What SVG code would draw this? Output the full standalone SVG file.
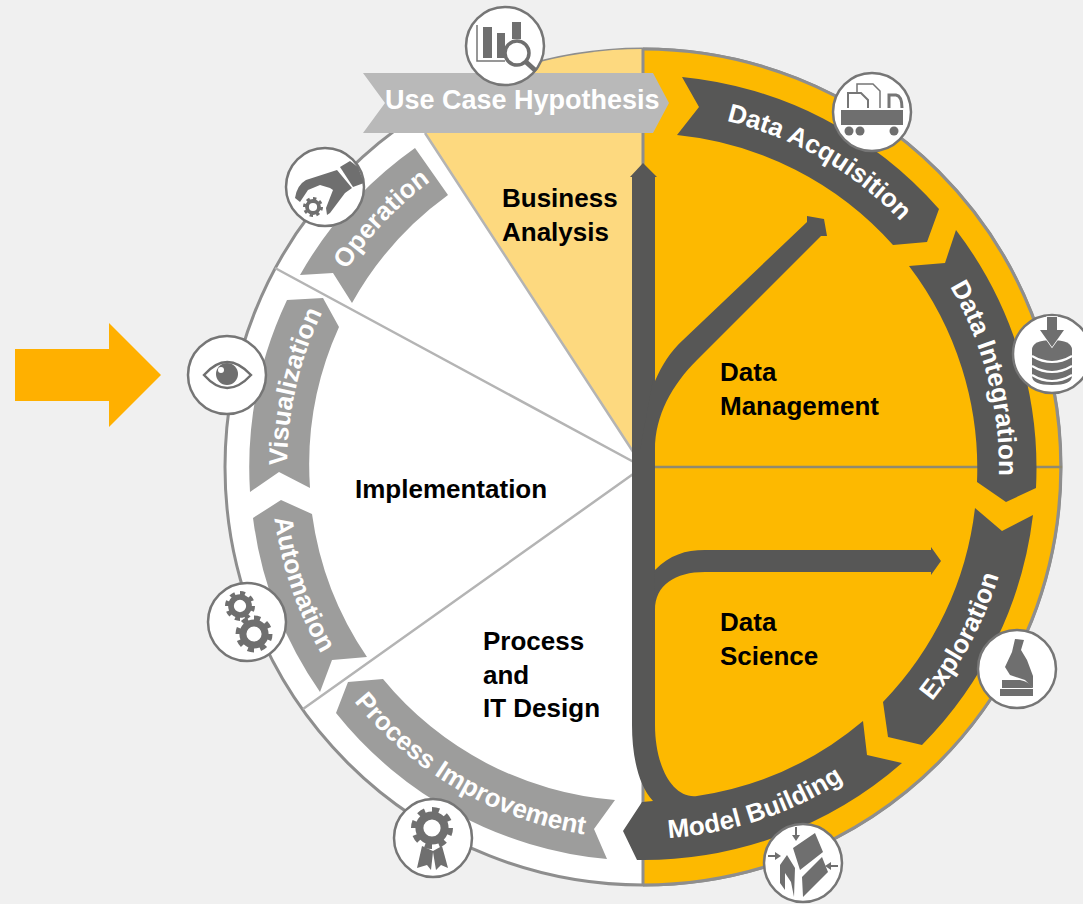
<svg xmlns="http://www.w3.org/2000/svg" width="1083" height="904" viewBox="0 0 1083 904">
<style>
.lbl{font-family:"Liberation Sans",Arial,sans-serif;font-weight:700;font-size:26px;fill:#000}
.band{font-family:"Liberation Sans",Arial,sans-serif;font-weight:700;font-size:26px;fill:#fff;text-anchor:middle}
.dark{fill:#575756}
.mid{fill:#9d9d9c}
.ic{fill:#fff;stroke:#767676;stroke-width:2.5}
.g{fill:#6f6f6f}
.spoke{stroke:#b4b4b4;stroke-width:2.5;fill:none}
.arc{fill:none}
</style>
<defs>
<g id="gear">
<circle r="6" fill="none" stroke="#6f6f6f" stroke-width="3.8"/>
<circle r="8.6" fill="none" stroke="#6f6f6f" stroke-width="2.8" pathLength="16" stroke-dasharray="1 1"/>
</g>
<path id="pDA" d="M643,111 A356,356 0 0 1 951.3,289"/>
<path id="pDI" d="M896.9,217.5 A356,356 0 0 1 986,562.1"/>
<path id="pEX" d="M840.1,782.5 A372,372 0 0 0 1014.8,454"/>
<path id="pMB" d="M567.6,831.3 A372,372 0 0 0 920.7,714.5"/>
<path id="pPI" d="M320.8,653 A372,372 0 0 0 643,839"/>
<path id="pAU" d="M277.8,396 A372,372 0 0 0 399,747.8"/>
<path id="pVI" d="M302.6,571.1 A356,356 0 0 1 382.6,224.2"/>
<path id="pOP" d="M296.8,383.9 A356,356 0 0 1 541.9,125.7"/>
</defs>
<rect width="1083" height="904" fill="#f0f0f0"/>

<g id="wheel">
<circle cx="643" cy="467" r="418" fill="#fff" stroke="#8e8e8e" stroke-width="3"/>
<path d="M643,49 A418,418 0 0 1 643,885 Z" fill="#fdb900"/>
<path d="M643,467 L415,117 A418,418 0 0 1 643,49 Z" fill="#fdd97f"/>
<path d="M643,49 A418,418 0 0 1 643,885" fill="none" stroke="#8e8e8e" stroke-width="3"/>
<path class="spoke" d="M643,467 L275,268 M643,467 L303,709 M643,467 L425,133"/>
<path d="M643,49 V885" stroke="#8e8e8e" stroke-width="3" fill="none"/>
<path d="M643,467 H1062" stroke="#8f8a70" stroke-width="2.5" fill="none"/>
</g>

<g id="connectors">
<path class="dark" d="M902,763 L867,755 L863,721 A334,334 0 0 1 697,796 C672,799 655,765 655,725 L655,177 L657,177 L643,163 L630,177 L632,177 L632,725 C632,755 638,785 653,801 L642,802 L623,831 L637,860 A393,393 0 0 0 902,763 Z"/>
<path class="dark" d="M653,380 L655,381 C662,365 670,352 683,340 L807,222 L807,216 L824,219 L827,236 L821,236 L697,360 C672,385 655,415 655,450 L640,450 Z"/>
<path class="dark" d="M650,695 L655,570 C670,555 685,550 705,550 L931,550 L931,547 L941,561 L931,575 L931,572 L705,572 C675,572 655,585 655,610 L650,620 Z"/>
</g>

<g id="use-case-hypothesis">
<path fill="#b9b9b9" d="M363,73 H653 L669,103 L653,133 H363 L385,103 Z"/>
<text x="385" y="109" font-family="Liberation Sans,Arial,sans-serif" font-weight="700" font-size="27" fill="#fff">Use Case Hypothesis</text>
</g>
<g id="data-acquisition">
<path class="dark" d="M682,77 A392,392 0 0 1 939,209 L927,242 L893,245 A334,334 0 0 0 677,135 L699,107 Z"/>
<text class="band"><textPath href="#pDA" startOffset="50%">Data Acquisition</textPath></text>
</g>
<g id="data-integration">
<path class="dark" d="M956,230 A393,393 0 0 1 1036,488 L1006,502 L977,482 A334,334 0 0 0 909,266 L945,263 Z"/>
<text class="band"><textPath href="#pDI" startOffset="50%">Data Integration</textPath></text>
</g>
<g id="exploration">
<path class="dark" d="M1033,515 L1002,531 L975,508 A334,334 0 0 1 883,702 L888,737 L922,745 A393,393 0 0 0 1033,515 Z"/>
<text class="band"><textPath href="#pEX" startOffset="50%">Exploration</textPath></text>
</g>
<g id="model-building">
<text class="band"><textPath href="#pMB" startOffset="50%">Model Building</textPath></text>
</g>
<g id="process-improvement">
<path class="mid" d="M615,800 L594,829 L607,859 A393,393 0 0 1 336,713 L348,682 L383,679 A334,334 0 0 0 615,800 Z"/>
<text class="band"><textPath href="#pPI" startOffset="50%">Process Improvement</textPath></text>
</g>
<g id="automation">
<path class="mid" d="M281,500 L312,514 A334,334 0 0 0 367,657 L332,660 L320,692 A393,393 0 0 1 253,518 Z"/>
<text class="band"><textPath href="#pAU" startOffset="50%">Automation</textPath></text>
</g>
<g id="visualization">
<path class="mid" d="M250,492 L279,472 L310,488 A334,334 0 0 1 339,327 L323,298 L287,300 A393,393 0 0 0 250,492 Z"/>
<text class="band"><textPath href="#pVI" startOffset="50%">Visualization</textPath></text>
</g>
<g id="operation">
<path class="mid" d="M300,275 L333,273 L352,303 A334,334 0 0 1 448,195 L415,148 A393,393 0 0 0 300,275 Z"/>
<text class="band"><textPath href="#pOP" startOffset="50%">Operation</textPath></text>
</g>

<g id="business-analysis"><text class="lbl" x="502" y="207">Business</text><text class="lbl" x="502" y="241">Analysis</text></g>
<g id="data-management"><text class="lbl" x="720" y="381">Data</text><text class="lbl" x="720" y="415">Management</text></g>
<g id="data-science"><text class="lbl" x="720" y="631">Data</text><text class="lbl" x="720" y="665">Science</text></g>
<g id="implementation"><text class="lbl" x="355" y="498">Implementation</text></g>
<g id="process-it-design"><text class="lbl" x="483" y="650">Process</text><text class="lbl" x="483" y="684">and</text><text class="lbl" x="483" y="717">IT Design</text></g>

<g id="input-arrow"><path fill="#ffb000" d="M15,349 H109 V323 L161,375 L109,427 V401 H15 Z"/></g>

<g id="icon-chart">
<circle class="ic" cx="505" cy="46" r="39"/>
<path d="M477,25 V61 H505" fill="none" stroke="#767676" stroke-width="1.5"/>
<rect class="g" x="483" y="27" width="9" height="31"/><rect class="g" x="497" y="33" width="8" height="25"/><rect class="g" x="512" y="22" width="9" height="17"/>
<circle cx="517" cy="53" r="12" fill="#fff" stroke="#6f6f6f" stroke-width="3.5"/>
<path d="M526,62 L536,71" stroke="#6f6f6f" stroke-width="5" fill="none"/>
</g>
<g id="icon-truck">
<circle class="ic" cx="872" cy="112" r="39"/>
<rect class="g" x="841" y="110" width="62" height="15"/>
<circle class="g" cx="849" cy="131" r="4.5"/><circle class="g" cx="860" cy="131" r="4.5"/><circle class="g" cx="894" cy="131" r="4.5"/>
<path d="M857,108 V84 H873 L880,91 V108" fill="#fff" stroke="#767676" stroke-width="1.5"/>
<path d="M848,108 V93 H861 L868,100 V108" fill="#fff" stroke="#767676" stroke-width="2"/>
<path d="M889,108 V95 H896 Q902,96 902,108" fill="#fff" stroke="#767676" stroke-width="3"/>
</g>
<g id="icon-database">
<circle class="ic" cx="1052" cy="354" r="39"/>
<path class="g" d="M1032,350 Q1032,340 1052,340 Q1072,340 1072,350 V376 Q1072,385 1052,385 Q1032,385 1032,376 Z"/>
<path d="M1032,356 Q1052,368 1072,356 M1032,366 Q1052,378 1072,366 M1032,375 Q1052,387 1072,375" fill="none" stroke="#fff" stroke-width="2.2"/>
<path class="g" d="M1047,317 H1057 V330 H1064 L1052,347 L1040,330 H1047 Z" stroke="#fff" stroke-width="1.5" paint-order="stroke"/>
</g>
<g id="icon-microscope">
<circle class="ic" cx="1017" cy="669" r="39"/>
<rect class="g" x="1000" y="689" width="33" height="7"/>
<path class="g" d="M1002,680 H1020 Q1030,682 1033,688 H1002 Z"/>
<path class="g" d="M1015,639 L1024,640 L1021,650 L1027,660 L1033,676 V688 L1025,680 L1010,675 L1005,667 L1012,652 Z"/>
</g>
<g id="icon-model">
<circle class="ic" cx="803" cy="863" r="39"/>
<path class="g" d="M793,848 L815,833 L823,852 L800,870 Z M802,877 L822,857 L828,872 L803,897 Z M780,865 L787,855 L795,868 L794,897 L791,882 L785,873 L785,890 L780,883 Z"/>
<path class="g" d="M795,827 H797 V835 H800 L796,841 L792,835 H795 Z M768,855 H775 V852 L781,856 L775,860 V857 H768 Z M838,865 H831 V862 L825,866 L831,870 V867 H838 Z"/>
</g>
<g id="icon-ribbon">
<circle class="ic" cx="433" cy="838" r="39"/>
<path class="g" d="M422,846 L417,868 L427,865 L431,870 L433,852 L436,870 L441,865 L448,868 L442,846 L433,851 Z"/>
<use href="#gear" transform="translate(432,828) scale(2.1)"/>
</g>
<g id="icon-gears">
<circle class="ic" cx="247" cy="622" r="39"/>
<use href="#gear" transform="translate(240,606) scale(1.5)"/>
<use href="#gear" transform="translate(254,634) scale(1.85)"/>
</g>
<g id="icon-eye">
<circle class="ic" cx="227" cy="375" r="39"/>
<path d="M204,375 Q227,349 251,375 Q227,401 204,375 Z" fill="none" stroke="#6f6f6f" stroke-width="2.5"/>
<circle class="g" cx="227" cy="374" r="11"/>
<circle cx="221" cy="370" r="3" fill="#fff"/>
</g>
<g id="icon-wrench">
<circle class="ic" cx="325" cy="187" r="39"/>
<path class="g" d="M340,167 L350,161 L358,167 L364,183 L353,187 Z"/>
<path class="g" d="M295,198 Q297,185 306,180 L337,170 L352,188 L345,193 L330,213 L327,215 L326,208 L333,190 L330,188 L320,185 L308,190 L300,202 Z"/>
<use href="#gear" transform="translate(313,207)"/>
</g>
</svg>
